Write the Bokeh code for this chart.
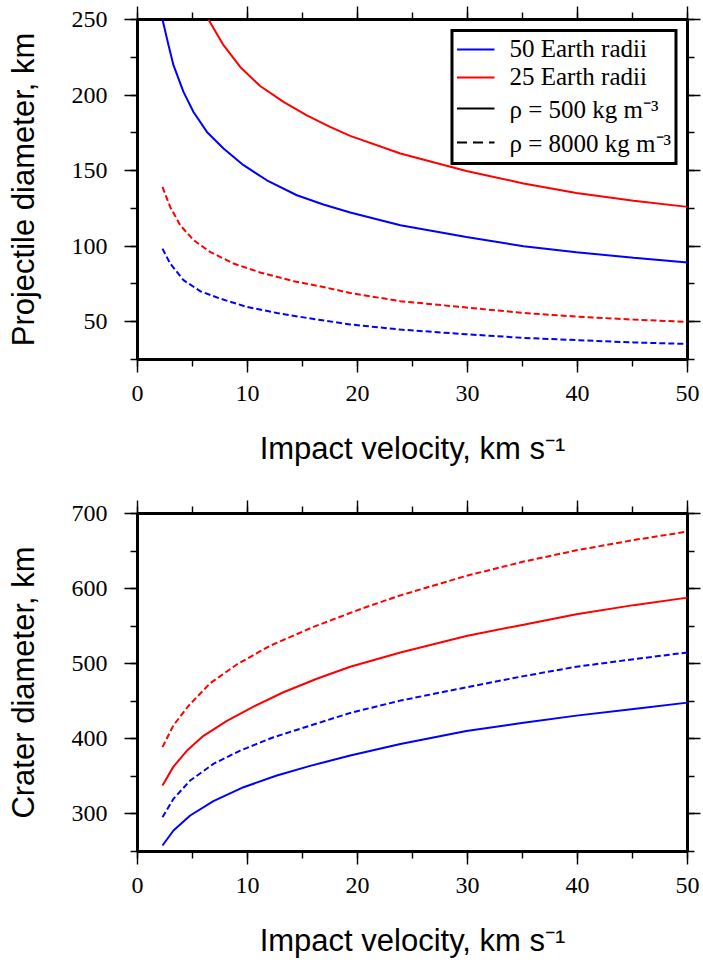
from bokeh.plotting import figure
from bokeh.models import (Range1d, LinearAxis, SingleIntervalTicker,
                          CustomJSTickFormatter, Legend, LegendItem)
from bokeh.layouts import column
from bokeh.embed import file_html
from bokeh.resources import INLINE

NAN = float("nan")

# ---------------- top panel: projectile diameter (km) vs impact velocity (km/s)
proj_50_light_v = [2.27, 2.82, 3.27, 4.18, 5.09, 6.31, 7.82, 9.64, 11.76, 14.49, 16.9, 19.34, 23.9, 29.9, 35.1, 39.9, 45.1, 50]
proj_50_light_d = [250, 233, 219.8, 202.1, 188.8, 175.6, 164.6, 153.6, 143.6, 133.7, 127.6, 122.3, 113.9, 106.1, 100, 96, 92.3, 89.2]

proj_25_light_v = [6.45, 7.82, 9.34, 11.15, 13.27, 15.4, 17.5, 19.34, 23.9, 29.9, 35.1, 39.9, 45.1, 50]
proj_25_light_d = [250, 233, 218.6, 206, 195.5, 186.5, 179, 173, 161.3, 149.8, 141.5, 135.2, 130.0, 126.0]

proj_25_dense_v = [2.27, 2.97, 3.88, 5.09, 6.6, 8.73, 11.15, 14.2, 16.9, 19.34, 23.9, 29.9, 35.1, 39.9, 45.1, 50]
proj_25_dense_d = [139.2, 126, 113.9, 104, 96.2, 88.5, 82.6, 76.8, 73.0, 69.0, 63.6, 59.4, 55.8, 53.4, 51.4, 49.9]

proj_50_dense_v = [2.27, 2.97, 4.18, 5.7, 7.52, 9.94, 12.67, 15.4, 19.34, 23.9, 29.9, 35.1, 39.9, 45.1, 50]
proj_50_dense_d = [98.4, 88.5, 77.5, 70.2, 65.3, 59.8, 55.8, 52.5, 48.2, 44.8, 41.7, 39.3, 37.8, 36.3, 35.3]

# ---------------- bottom panel: crater diameter (km) vs impact velocity (km/s)
crat_25_dense_v = [2.27, 3.27, 4.64, 6.6, 9.03, 12.06, 16, 20.5, 23.9, 29.9, 35.1, 39.9, 45.1, 50]
crat_25_dense_d = [389, 418, 444, 474, 499, 524, 549, 574, 591, 617, 636, 651, 664.6, 676]

crat_25_light_v = [2.27, 3.27, 4.48, 6.0, 8.13, 10.55, 13.27, 16.3, 19.34, 23.9, 29.9, 35.1, 39.9, 45.1, 50]
crat_25_light_d = [338, 363, 384, 404, 424, 443, 462, 480, 496, 515, 537, 552, 566, 578, 588]

crat_50_dense_v = [2.27, 3.27, 4.79, 6.9, 9.34, 12.36, 15.7, 19.34, 23.9, 29.9, 35.1, 39.9, 45.1, 50]
crat_50_dense_d = [295.7, 320.1, 344.5, 366.7, 384.4, 402.1, 417.6, 434.5, 450.9, 468.6, 483.5, 496, 506, 515]

crat_50_light_v = [2.27, 3.27, 4.79, 6.9, 9.64, 12.67, 15.7, 19.34, 23.9, 29.9, 35.1, 39.9, 45.1, 50]
crat_50_light_d = [258, 278, 297.9, 317, 335.6, 351.1, 364, 377.7, 393, 410.5, 421.5, 430.9, 439.8, 448.2]

x_label = "Impact velocity, km s\u207b\u00b9"
y_label_top = "Projectile diameter, km"
y_label_bottom = "Crater diameter, km"
legend_labels = ["50 Earth radii", "25 Earth radii",
                 "\u03c1 = 500 kg m\u207b\u00b3", "\u03c1 = 8000 kg m\u207b\u00b3"]

BLUE = "#0000ff"
RED = "#ff0000"
SERIF = "Liberation Serif"
SANS = "Liberation Sans"
LW = 2
DASH = "6 3"


def style_axis(ax, labels=True):
    ax.axis_line_color = None
    ax.major_tick_in = 0
    ax.major_tick_out = 13
    ax.minor_tick_in = 0
    ax.minor_tick_out = 7
    ax.major_tick_line_width = 1.4
    ax.minor_tick_line_width = 1.4
    ax.major_tick_line_color = "black"
    ax.minor_tick_line_color = "black"
    if labels:
        ax.major_label_text_font = SERIF
        ax.major_label_text_font_size = "24px"
        ax.major_label_text_color = "black"
        ax.axis_label_text_font = SANS
        ax.axis_label_text_font_size = "31px"
        ax.axis_label_text_font_style = "normal"
        ax.axis_label_text_color = "black"
    else:
        ax.formatter = CustomJSTickFormatter(code="return ''")
        ax.major_label_text_font_size = "0px"
        ax.major_label_standoff = 0


def make_fig(height, ymin, ymax, ystep, btop, bbottom, ylabel):
    p = figure(width=703, height=height, x_range=Range1d(0, 50),
               y_range=Range1d(ymin, ymax), output_backend="svg",
               toolbar_location=None, min_border_left=137, min_border_right=16,
               min_border_top=btop, min_border_bottom=bbottom)
    p.xgrid.visible = False
    p.ygrid.visible = False
    p.outline_line_color = "black"
    p.outline_line_width = 3
    p.outline_line_alpha = 1.0
    p.background_fill_color = "white"
    p.border_fill_color = "white"

    p.xaxis.ticker = SingleIntervalTicker(interval=10, num_minor_ticks=2)
    p.yaxis.ticker = SingleIntervalTicker(interval=ystep, num_minor_ticks=2)
    for ax in p.xaxis:
        style_axis(ax)
        ax.major_label_standoff = 13
        ax.axis_label_standoff = 27
        ax.axis_label = x_label
    for ax in p.yaxis:
        style_axis(ax)
        ax.major_label_standoff = 17
        ax.axis_label_standoff = 28
        ax.axis_label = ylabel

    top = LinearAxis(ticker=SingleIntervalTicker(interval=10, num_minor_ticks=2))
    style_axis(top, labels=False)
    p.add_layout(top, "above")
    right = LinearAxis(ticker=SingleIntervalTicker(interval=ystep, num_minor_ticks=2))
    style_axis(right, labels=False)
    p.add_layout(right, "right")
    return p


# ---------------- top figure
p1 = make_fig(480, 25, 250, 50, 19, 121, y_label_top)
r_b = p1.line(proj_50_light_v, proj_50_light_d, line_color=BLUE, line_width=LW)
r_r = p1.line(proj_25_light_v, proj_25_light_d, line_color=RED, line_width=LW)
p1.line(proj_25_dense_v, proj_25_dense_d, line_color=RED, line_width=LW, line_dash=DASH)
p1.line(proj_50_dense_v, proj_50_dense_d, line_color=BLUE, line_width=LW, line_dash=DASH)
# legend-only renderers (no visible data)
r_ks = p1.line([NAN, NAN], [NAN, NAN], line_color="black", line_width=LW)
r_kd = p1.line([NAN, NAN], [NAN, NAN], line_color="black", line_width=LW, line_dash="10 6")

legend = Legend(items=[LegendItem(label=legend_labels[0], renderers=[r_b]),
                       LegendItem(label=legend_labels[1], renderers=[r_r]),
                       LegendItem(label=legend_labels[2], renderers=[r_ks]),
                       LegendItem(label=legend_labels[3], renderers=[r_kd])],
                location="top_right")
legend.margin = 10
legend.padding = 3
legend.spacing = 0
legend.label_height = 20
legend.glyph_height = 20
legend.glyph_width = 38
legend.label_standoff = 15
legend.label_text_font = SERIF
legend.label_text_font_size = "25px"
legend.label_text_line_height = 1.0
legend.label_text_color = "black"
legend.border_line_color = "black"
legend.border_line_width = 3
legend.border_line_alpha = 1.0
legend.background_fill_color = "white"
legend.background_fill_alpha = 1.0
p1.add_layout(legend)

# ---------------- bottom figure
p2 = make_fig(484, 250, 700, 100, 33, 113, y_label_bottom)
p2.line(crat_25_dense_v, crat_25_dense_d, line_color=RED, line_width=LW, line_dash=DASH)
p2.line(crat_25_light_v, crat_25_light_d, line_color=RED, line_width=LW)
p2.line(crat_50_dense_v, crat_50_dense_d, line_color=BLUE, line_width=LW, line_dash=DASH)
p2.line(crat_50_light_v, crat_50_light_d, line_color=BLUE, line_width=LW)

layout = column(p1, p2, spacing=0)
open("out.html", "w").write(file_html(layout, INLINE))
